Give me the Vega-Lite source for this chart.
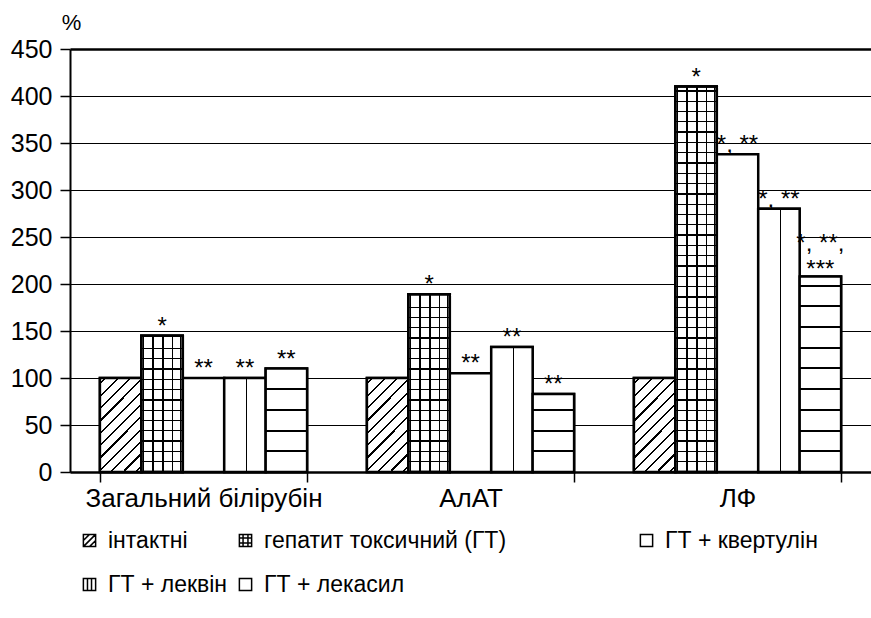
{
  "$schema": "https://vega.github.io/schema/vega-lite/v6.json",
  "autosize": {"type": "none"},
  "padding": {"left": 70, "top": 49, "right": 0, "bottom": 146},
  "width": 801,
  "height": 423,
  "background": "white",
  "config": {
    "view": {"stroke": null},
    "font": "Liberation Sans",
    "axis": {"labelFont": "Liberation Sans", "titleFont": "Liberation Sans", "labelColor": "black", "titleColor": "black", "domainColor": "black", "tickColor": "black"},
    "legend": {
      "labelFont": "Liberation Sans", "labelColor": "black", "title": null, "orient": "none", "direction": "vertical", "padding": 0,
      "symbolSize": 150, "symbolStrokeColor": "black", "symbolStrokeWidth": 1.5, "symbolFillColor": "white", "symbolOpacity": 1,
      "labelFontSize": 23, "labelLimit": 0, "labelOffset": 7, "rowPadding": 20
    }
  },
  "resolve": {"scale": {"shape": "independent"}, "legend": {"shape": "independent"}},
  "data": {
    "values": [
      {"group": "Загальний білірубін", "series": "інтактні", "value": 100, "label": ""},
      {"group": "Загальний білірубін", "series": "гепатит токсичний (ГТ)", "value": 145, "label": "*"},
      {"group": "Загальний білірубін", "series": "ГТ + квертулін", "value": 100, "label": "**"},
      {"group": "Загальний білірубін", "series": "ГТ + леквін", "value": 100, "label": "**"},
      {"group": "Загальний білірубін", "series": "ГТ + лекасил", "value": 110, "label": "**"},
      {"group": "АлАТ", "series": "інтактні", "value": 100, "label": ""},
      {"group": "АлАТ", "series": "гепатит токсичний (ГТ)", "value": 189, "label": "*"},
      {"group": "АлАТ", "series": "ГТ + квертулін", "value": 105, "label": "**"},
      {"group": "АлАТ", "series": "ГТ + леквін", "value": 133, "label": "**"},
      {"group": "АлАТ", "series": "ГТ + лекасил", "value": 83, "label": "**"},
      {"group": "ЛФ", "series": "інтактні", "value": 100, "label": ""},
      {"group": "ЛФ", "series": "гепатит токсичний (ГТ)", "value": 410, "label": "*"},
      {"group": "ЛФ", "series": "ГТ + квертулін", "value": 338, "label": "*, **"},
      {"group": "ЛФ", "series": "ГТ + леквін", "value": 280, "label": "*, **"},
      {"group": "ЛФ", "series": "ГТ + лекасил", "value": 208, "label": "*, **,\n***"}
    ]
  },
  "encoding": {
    "x": {
      "field": "group", "type": "nominal", "sort": ["Загальний білірубін", "АлАТ", "ЛФ"],
      "scale": {"paddingInner": 0.224, "paddingOuter": 0.112},
      "axis": {"title": null, "labelAngle": 0, "labelFontSize": 26, "labelLimit": 0, "labelPadding": 3, "tickBand": "extent", "tickSize": 10, "tickWidth": 1.5, "domainWidth": 2.5}
    },
    "xOffset": {
      "field": "series", "type": "nominal",
      "scale": {"domain": ["інтактні", "гепатит токсичний (ГТ)", "ГТ + квертулін", "ГТ + леквін", "ГТ + лекасил"], "paddingInner": 0, "paddingOuter": 0}
    },
    "y": {
      "field": "value", "type": "quantitative",
      "scale": {"domain": [0, 450], "nice": false},
      "axis": {
        "values": [0, 50, 100, 150, 200, 250, 300, 350, 400, 450],
        "title": "%", "titleAngle": 0, "titleAlign": "center", "titleBaseline": "alphabetic", "titleX": 1, "titleY": -20, "titleFontSize": 22, "titleFontWeight": "normal",
        "labelFontSize": 25, "labelPadding": 8, "tickSize": 10, "tickWidth": 1.5, "domainWidth": 2,
        "grid": true, "gridColor": "black", "gridOpacity": 1,
        "gridWidth": {"condition": {"test": "datum.value === 450", "value": 2.5}, "value": 1}
      }
    }
  },
  "layer": [
    {
      "mark": {"type": "bar", "stroke": "black", "strokeWidth": 2.5, "fill": "white", "opacity": 1}
    },
    {
      "transform": [{"filter": {"field": "series", "oneOf": ["інтактні", "ГТ + леквін"]}}],
      "mark": {"type": "point", "opacity": 0, "filled": false, "color": "black"},
      "encoding": {"shape": {"field": "series", "type": "nominal",
        "scale": {"domain": ["інтактні", "ГТ + леквін"], "range": ["M-1,-1H1V1H-1Z M-1,0L0,-1 M-1,1L1,-1 M0,1L1,0", "M-1,-1H1V1H-1Z M-0.33,-1V1 M0.33,-1V1"]},
        "legend": {"legendX": 8, "legendY": 480, "encode": {"symbols": {"update": {"stroke": {"value": "black"}, "fill": {"value": "white"}, "opacity": {"value": 1}, "strokeWidth": {"value": 1.5}}}}}}}
    },
    {
      "transform": [{"filter": {"field": "series", "oneOf": ["гепатит токсичний (ГТ)", "ГТ + лекасил"]}}],
      "mark": {"type": "point", "opacity": 0, "filled": false, "color": "black"},
      "encoding": {"shape": {"field": "series", "type": "nominal",
        "scale": {"domain": ["гепатит токсичний (ГТ)", "ГТ + лекасил"], "range": ["M-1,-1H1V1H-1Z M-0.4,-1V1 M0.4,-1V1 M-1,-0.4H1 M-1,0.4H1", "M-1,-1H1V1H-1Z"]},
        "legend": {"legendX": 164, "legendY": 480, "encode": {"symbols": {"update": {"stroke": {"value": "black"}, "fill": {"value": "white"}, "opacity": {"value": 1}, "strokeWidth": {"value": 1.5}}}}}}}
    },
    {
      "transform": [{"filter": {"field": "series", "equal": "ГТ + квертулін"}}],
      "mark": {"type": "point", "opacity": 0, "filled": false, "color": "black"},
      "encoding": {"shape": {"field": "series", "type": "nominal",
        "scale": {"domain": ["ГТ + квертулін"], "range": ["M-1,-1H1V1H-1Z"]},
        "legend": {"legendX": 565, "legendY": 480, "encode": {"symbols": {"update": {"stroke": {"value": "black"}, "fill": {"value": "white"}, "opacity": {"value": 1}, "strokeWidth": {"value": 1.5}}}}}}}
    },
    {
      "transform": [{"filter": {"field": "series", "equal": "інтактні"}}],
      "mark": {"type": "bar", "stroke": "black", "strokeWidth": 2.5, "fill": {"gradient": "linear", "x1": 0, "y1": 0, "x2": 0.534, "y2": 1.206, "stops": [
        {"offset": 0, "color": "white"},
        {"offset": 0.036, "color": "white"}, {"offset": 0.036, "color": "black"}, {"offset": 0.052, "color": "black"}, {"offset": 0.052, "color": "white"},
        {"offset": 0.127, "color": "white"}, {"offset": 0.127, "color": "black"}, {"offset": 0.143, "color": "black"}, {"offset": 0.143, "color": "white"},
        {"offset": 0.218, "color": "white"}, {"offset": 0.218, "color": "black"}, {"offset": 0.234, "color": "black"}, {"offset": 0.234, "color": "white"},
        {"offset": 0.310, "color": "white"}, {"offset": 0.310, "color": "black"}, {"offset": 0.326, "color": "black"}, {"offset": 0.326, "color": "white"},
        {"offset": 0.401, "color": "white"}, {"offset": 0.401, "color": "black"}, {"offset": 0.417, "color": "black"}, {"offset": 0.417, "color": "white"},
        {"offset": 0.492, "color": "white"}, {"offset": 0.492, "color": "black"}, {"offset": 0.508, "color": "black"}, {"offset": 0.508, "color": "white"},
        {"offset": 0.583, "color": "white"}, {"offset": 0.583, "color": "black"}, {"offset": 0.599, "color": "black"}, {"offset": 0.599, "color": "white"},
        {"offset": 0.674, "color": "white"}, {"offset": 0.674, "color": "black"}, {"offset": 0.690, "color": "black"}, {"offset": 0.690, "color": "white"},
        {"offset": 0.766, "color": "white"}, {"offset": 0.766, "color": "black"}, {"offset": 0.782, "color": "black"}, {"offset": 0.782, "color": "white"},
        {"offset": 0.857, "color": "white"}, {"offset": 0.857, "color": "black"}, {"offset": 0.873, "color": "black"}, {"offset": 0.873, "color": "white"},
        {"offset": 0.948, "color": "white"}, {"offset": 0.948, "color": "black"}, {"offset": 0.964, "color": "black"}, {"offset": 0.964, "color": "white"},
        {"offset": 1, "color": "white"}
      ]}}
    },
    {
      "transform": [{"filter": {"field": "series", "equal": "гепатит токсичний (ГТ)"}}],
      "mark": {"type": "bar", "stroke": "black", "strokeWidth": 2.5, "fill": {"gradient": "linear", "x1": 0, "y1": 0, "x2": 1, "y2": 0, "stops": [
        {"offset": 0, "color": "white"},
        {"offset": 0.05, "color": "white"}, {"offset": 0.05, "color": "black"}, {"offset": 0.07, "color": "black"}, {"offset": 0.07, "color": "white"},
        {"offset": 0.264, "color": "white"}, {"offset": 0.264, "color": "black"}, {"offset": 0.296, "color": "black"}, {"offset": 0.296, "color": "white"},
        {"offset": 0.504, "color": "white"}, {"offset": 0.504, "color": "black"}, {"offset": 0.536, "color": "black"}, {"offset": 0.536, "color": "white"},
        {"offset": 0.744, "color": "white"}, {"offset": 0.744, "color": "black"}, {"offset": 0.776, "color": "black"}, {"offset": 0.776, "color": "white"},
        {"offset": 0.93, "color": "white"}, {"offset": 0.93, "color": "black"}, {"offset": 0.95, "color": "black"}, {"offset": 0.95, "color": "white"},
        {"offset": 1, "color": "white"}
      ]}}
    },
    {
      "transform": [{"filter": {"field": "series", "equal": "ГТ + леквін"}}],
      "mark": {"type": "bar", "stroke": "black", "strokeWidth": 2.5, "fill": {"gradient": "linear", "x1": 0, "y1": 0, "x2": 1, "y2": 0, "stops": [
        {"offset": 0, "color": "white"},
        {"offset": 0.515, "color": "white"}, {"offset": 0.515, "color": "black"}, {"offset": 0.545, "color": "black"}, {"offset": 0.545, "color": "white"},
        {"offset": 1, "color": "white"}
      ]}}
    },
    {
      "transform": [{"filter": {"and": [{"field": "series", "equal": "гепатит токсичний (ГТ)"}, {"field": "group", "equal": "Загальний білірубін"}]}}],
      "mark": {"type": "bar", "stroke": "black", "strokeWidth": 2.5, "fill": {"gradient": "linear", "x1": 0, "y1": 1, "x2": 0, "y2": 0, "stops": [
        {"offset": 0, "color": "rgba(0,0,0,0)"},
        {"offset": 0.0706, "color": "rgba(0,0,0,0)"}, {"offset": 0.0706, "color": "black"}, {"offset": 0.0806, "color": "black"}, {"offset": 0.0806, "color": "rgba(0,0,0,0)"},
        {"offset": 0.1461, "color": "rgba(0,0,0,0)"}, {"offset": 0.1461, "color": "black"}, {"offset": 0.1561, "color": "black"}, {"offset": 0.1561, "color": "rgba(0,0,0,0)"},
        {"offset": 0.2217, "color": "rgba(0,0,0,0)"}, {"offset": 0.2217, "color": "black"}, {"offset": 0.2317, "color": "black"}, {"offset": 0.2317, "color": "rgba(0,0,0,0)"},
        {"offset": 0.2973, "color": "rgba(0,0,0,0)"}, {"offset": 0.2973, "color": "black"}, {"offset": 0.3073, "color": "black"}, {"offset": 0.3073, "color": "rgba(0,0,0,0)"},
        {"offset": 0.3728, "color": "rgba(0,0,0,0)"}, {"offset": 0.3728, "color": "black"}, {"offset": 0.3828, "color": "black"}, {"offset": 0.3828, "color": "rgba(0,0,0,0)"},
        {"offset": 0.4484, "color": "rgba(0,0,0,0)"}, {"offset": 0.4484, "color": "black"}, {"offset": 0.4584, "color": "black"}, {"offset": 0.4584, "color": "rgba(0,0,0,0)"},
        {"offset": 0.5240, "color": "rgba(0,0,0,0)"}, {"offset": 0.5240, "color": "black"}, {"offset": 0.5340, "color": "black"}, {"offset": 0.5340, "color": "rgba(0,0,0,0)"},
        {"offset": 0.5995, "color": "rgba(0,0,0,0)"}, {"offset": 0.5995, "color": "black"}, {"offset": 0.6095, "color": "black"}, {"offset": 0.6095, "color": "rgba(0,0,0,0)"},
        {"offset": 0.6751, "color": "rgba(0,0,0,0)"}, {"offset": 0.6751, "color": "black"}, {"offset": 0.6851, "color": "black"}, {"offset": 0.6851, "color": "rgba(0,0,0,0)"},
        {"offset": 0.7507, "color": "rgba(0,0,0,0)"}, {"offset": 0.7507, "color": "black"}, {"offset": 0.7607, "color": "black"}, {"offset": 0.7607, "color": "rgba(0,0,0,0)"},
        {"offset": 0.8262, "color": "rgba(0,0,0,0)"}, {"offset": 0.8262, "color": "black"}, {"offset": 0.8362, "color": "black"}, {"offset": 0.8362, "color": "rgba(0,0,0,0)"},
        {"offset": 0.9018, "color": "rgba(0,0,0,0)"}, {"offset": 0.9018, "color": "black"}, {"offset": 0.9118, "color": "black"}, {"offset": 0.9118, "color": "rgba(0,0,0,0)"},
        {"offset": 1, "color": "rgba(0,0,0,0)"}
      ]}}
    },
    {
      "transform": [{"filter": {"and": [{"field": "series", "equal": "гепатит токсичний (ГТ)"}, {"field": "group", "equal": "АлАТ"}]}}],
      "mark": {"type": "bar", "stroke": "black", "strokeWidth": 2.5, "fill": {"gradient": "linear", "x1": 0, "y1": 1, "x2": 0, "y2": 0, "stops": [
        {"offset": 0, "color": "rgba(0,0,0,0)"},
        {"offset": 0.0543, "color": "rgba(0,0,0,0)"}, {"offset": 0.0543, "color": "black"}, {"offset": 0.0617, "color": "black"}, {"offset": 0.0617, "color": "rgba(0,0,0,0)"},
        {"offset": 0.1123, "color": "rgba(0,0,0,0)"}, {"offset": 0.1123, "color": "black"}, {"offset": 0.1197, "color": "black"}, {"offset": 0.1197, "color": "rgba(0,0,0,0)"},
        {"offset": 0.1702, "color": "rgba(0,0,0,0)"}, {"offset": 0.1702, "color": "black"}, {"offset": 0.1776, "color": "black"}, {"offset": 0.1776, "color": "rgba(0,0,0,0)"},
        {"offset": 0.2282, "color": "rgba(0,0,0,0)"}, {"offset": 0.2282, "color": "black"}, {"offset": 0.2356, "color": "black"}, {"offset": 0.2356, "color": "rgba(0,0,0,0)"},
        {"offset": 0.2862, "color": "rgba(0,0,0,0)"}, {"offset": 0.2862, "color": "black"}, {"offset": 0.2936, "color": "black"}, {"offset": 0.2936, "color": "rgba(0,0,0,0)"},
        {"offset": 0.3442, "color": "rgba(0,0,0,0)"}, {"offset": 0.3442, "color": "black"}, {"offset": 0.3516, "color": "black"}, {"offset": 0.3516, "color": "rgba(0,0,0,0)"},
        {"offset": 0.4021, "color": "rgba(0,0,0,0)"}, {"offset": 0.4021, "color": "black"}, {"offset": 0.4095, "color": "black"}, {"offset": 0.4095, "color": "rgba(0,0,0,0)"},
        {"offset": 0.4601, "color": "rgba(0,0,0,0)"}, {"offset": 0.4601, "color": "black"}, {"offset": 0.4675, "color": "black"}, {"offset": 0.4675, "color": "rgba(0,0,0,0)"},
        {"offset": 0.5181, "color": "rgba(0,0,0,0)"}, {"offset": 0.5181, "color": "black"}, {"offset": 0.5255, "color": "black"}, {"offset": 0.5255, "color": "rgba(0,0,0,0)"},
        {"offset": 0.5761, "color": "rgba(0,0,0,0)"}, {"offset": 0.5761, "color": "black"}, {"offset": 0.5835, "color": "black"}, {"offset": 0.5835, "color": "rgba(0,0,0,0)"},
        {"offset": 0.6340, "color": "rgba(0,0,0,0)"}, {"offset": 0.6340, "color": "black"}, {"offset": 0.6414, "color": "black"}, {"offset": 0.6414, "color": "rgba(0,0,0,0)"},
        {"offset": 0.6920, "color": "rgba(0,0,0,0)"}, {"offset": 0.6920, "color": "black"}, {"offset": 0.6994, "color": "black"}, {"offset": 0.6994, "color": "rgba(0,0,0,0)"},
        {"offset": 0.7500, "color": "rgba(0,0,0,0)"}, {"offset": 0.7500, "color": "black"}, {"offset": 0.7574, "color": "black"}, {"offset": 0.7574, "color": "rgba(0,0,0,0)"},
        {"offset": 0.8080, "color": "rgba(0,0,0,0)"}, {"offset": 0.8080, "color": "black"}, {"offset": 0.8154, "color": "black"}, {"offset": 0.8154, "color": "rgba(0,0,0,0)"},
        {"offset": 0.8659, "color": "rgba(0,0,0,0)"}, {"offset": 0.8659, "color": "black"}, {"offset": 0.8733, "color": "black"}, {"offset": 0.8733, "color": "rgba(0,0,0,0)"},
        {"offset": 0.9239, "color": "rgba(0,0,0,0)"}, {"offset": 0.9239, "color": "black"}, {"offset": 0.9313, "color": "black"}, {"offset": 0.9313, "color": "rgba(0,0,0,0)"},
        {"offset": 1, "color": "rgba(0,0,0,0)"}
      ]}}
    },
    {
      "transform": [{"filter": {"and": [{"field": "series", "equal": "гепатит токсичний (ГТ)"}, {"field": "group", "equal": "ЛФ"}]}}],
      "mark": {"type": "bar", "stroke": "black", "strokeWidth": 2.5, "fill": {"gradient": "linear", "x1": 0, "y1": 1, "x2": 0, "y2": 0, "stops": [
        {"offset": 0, "color": "rgba(0,0,0,0)"},
        {"offset": 0.0250, "color": "rgba(0,0,0,0)"}, {"offset": 0.0250, "color": "black"}, {"offset": 0.0284, "color": "black"}, {"offset": 0.0284, "color": "rgba(0,0,0,0)"},
        {"offset": 0.0518, "color": "rgba(0,0,0,0)"}, {"offset": 0.0518, "color": "black"}, {"offset": 0.0552, "color": "black"}, {"offset": 0.0552, "color": "rgba(0,0,0,0)"},
        {"offset": 0.0785, "color": "rgba(0,0,0,0)"}, {"offset": 0.0785, "color": "black"}, {"offset": 0.0819, "color": "black"}, {"offset": 0.0819, "color": "rgba(0,0,0,0)"},
        {"offset": 0.1052, "color": "rgba(0,0,0,0)"}, {"offset": 0.1052, "color": "black"}, {"offset": 0.1086, "color": "black"}, {"offset": 0.1086, "color": "rgba(0,0,0,0)"},
        {"offset": 0.1319, "color": "rgba(0,0,0,0)"}, {"offset": 0.1319, "color": "black"}, {"offset": 0.1353, "color": "black"}, {"offset": 0.1353, "color": "rgba(0,0,0,0)"},
        {"offset": 0.1587, "color": "rgba(0,0,0,0)"}, {"offset": 0.1587, "color": "black"}, {"offset": 0.1621, "color": "black"}, {"offset": 0.1621, "color": "rgba(0,0,0,0)"},
        {"offset": 0.1854, "color": "rgba(0,0,0,0)"}, {"offset": 0.1854, "color": "black"}, {"offset": 0.1888, "color": "black"}, {"offset": 0.1888, "color": "rgba(0,0,0,0)"},
        {"offset": 0.2121, "color": "rgba(0,0,0,0)"}, {"offset": 0.2121, "color": "black"}, {"offset": 0.2155, "color": "black"}, {"offset": 0.2155, "color": "rgba(0,0,0,0)"},
        {"offset": 0.2388, "color": "rgba(0,0,0,0)"}, {"offset": 0.2388, "color": "black"}, {"offset": 0.2422, "color": "black"}, {"offset": 0.2422, "color": "rgba(0,0,0,0)"},
        {"offset": 0.2656, "color": "rgba(0,0,0,0)"}, {"offset": 0.2656, "color": "black"}, {"offset": 0.2690, "color": "black"}, {"offset": 0.2690, "color": "rgba(0,0,0,0)"},
        {"offset": 0.2923, "color": "rgba(0,0,0,0)"}, {"offset": 0.2923, "color": "black"}, {"offset": 0.2957, "color": "black"}, {"offset": 0.2957, "color": "rgba(0,0,0,0)"},
        {"offset": 0.3190, "color": "rgba(0,0,0,0)"}, {"offset": 0.3190, "color": "black"}, {"offset": 0.3224, "color": "black"}, {"offset": 0.3224, "color": "rgba(0,0,0,0)"},
        {"offset": 0.3457, "color": "rgba(0,0,0,0)"}, {"offset": 0.3457, "color": "black"}, {"offset": 0.3491, "color": "black"}, {"offset": 0.3491, "color": "rgba(0,0,0,0)"},
        {"offset": 0.3725, "color": "rgba(0,0,0,0)"}, {"offset": 0.3725, "color": "black"}, {"offset": 0.3759, "color": "black"}, {"offset": 0.3759, "color": "rgba(0,0,0,0)"},
        {"offset": 0.3992, "color": "rgba(0,0,0,0)"}, {"offset": 0.3992, "color": "black"}, {"offset": 0.4026, "color": "black"}, {"offset": 0.4026, "color": "rgba(0,0,0,0)"},
        {"offset": 0.4259, "color": "rgba(0,0,0,0)"}, {"offset": 0.4259, "color": "black"}, {"offset": 0.4293, "color": "black"}, {"offset": 0.4293, "color": "rgba(0,0,0,0)"},
        {"offset": 0.4526, "color": "rgba(0,0,0,0)"}, {"offset": 0.4526, "color": "black"}, {"offset": 0.4560, "color": "black"}, {"offset": 0.4560, "color": "rgba(0,0,0,0)"},
        {"offset": 0.4794, "color": "rgba(0,0,0,0)"}, {"offset": 0.4794, "color": "black"}, {"offset": 0.4828, "color": "black"}, {"offset": 0.4828, "color": "rgba(0,0,0,0)"},
        {"offset": 0.5061, "color": "rgba(0,0,0,0)"}, {"offset": 0.5061, "color": "black"}, {"offset": 0.5095, "color": "black"}, {"offset": 0.5095, "color": "rgba(0,0,0,0)"},
        {"offset": 0.5328, "color": "rgba(0,0,0,0)"}, {"offset": 0.5328, "color": "black"}, {"offset": 0.5362, "color": "black"}, {"offset": 0.5362, "color": "rgba(0,0,0,0)"},
        {"offset": 0.5595, "color": "rgba(0,0,0,0)"}, {"offset": 0.5595, "color": "black"}, {"offset": 0.5629, "color": "black"}, {"offset": 0.5629, "color": "rgba(0,0,0,0)"},
        {"offset": 0.5863, "color": "rgba(0,0,0,0)"}, {"offset": 0.5863, "color": "black"}, {"offset": 0.5897, "color": "black"}, {"offset": 0.5897, "color": "rgba(0,0,0,0)"},
        {"offset": 0.6130, "color": "rgba(0,0,0,0)"}, {"offset": 0.6130, "color": "black"}, {"offset": 0.6164, "color": "black"}, {"offset": 0.6164, "color": "rgba(0,0,0,0)"},
        {"offset": 0.6397, "color": "rgba(0,0,0,0)"}, {"offset": 0.6397, "color": "black"}, {"offset": 0.6431, "color": "black"}, {"offset": 0.6431, "color": "rgba(0,0,0,0)"},
        {"offset": 0.6664, "color": "rgba(0,0,0,0)"}, {"offset": 0.6664, "color": "black"}, {"offset": 0.6698, "color": "black"}, {"offset": 0.6698, "color": "rgba(0,0,0,0)"},
        {"offset": 0.6932, "color": "rgba(0,0,0,0)"}, {"offset": 0.6932, "color": "black"}, {"offset": 0.6966, "color": "black"}, {"offset": 0.6966, "color": "rgba(0,0,0,0)"},
        {"offset": 0.7199, "color": "rgba(0,0,0,0)"}, {"offset": 0.7199, "color": "black"}, {"offset": 0.7233, "color": "black"}, {"offset": 0.7233, "color": "rgba(0,0,0,0)"},
        {"offset": 0.7466, "color": "rgba(0,0,0,0)"}, {"offset": 0.7466, "color": "black"}, {"offset": 0.7500, "color": "black"}, {"offset": 0.7500, "color": "rgba(0,0,0,0)"},
        {"offset": 0.7733, "color": "rgba(0,0,0,0)"}, {"offset": 0.7733, "color": "black"}, {"offset": 0.7767, "color": "black"}, {"offset": 0.7767, "color": "rgba(0,0,0,0)"},
        {"offset": 0.8001, "color": "rgba(0,0,0,0)"}, {"offset": 0.8001, "color": "black"}, {"offset": 0.8035, "color": "black"}, {"offset": 0.8035, "color": "rgba(0,0,0,0)"},
        {"offset": 0.8268, "color": "rgba(0,0,0,0)"}, {"offset": 0.8268, "color": "black"}, {"offset": 0.8302, "color": "black"}, {"offset": 0.8302, "color": "rgba(0,0,0,0)"},
        {"offset": 0.8535, "color": "rgba(0,0,0,0)"}, {"offset": 0.8535, "color": "black"}, {"offset": 0.8569, "color": "black"}, {"offset": 0.8569, "color": "rgba(0,0,0,0)"},
        {"offset": 0.8802, "color": "rgba(0,0,0,0)"}, {"offset": 0.8802, "color": "black"}, {"offset": 0.8836, "color": "black"}, {"offset": 0.8836, "color": "rgba(0,0,0,0)"},
        {"offset": 0.9070, "color": "rgba(0,0,0,0)"}, {"offset": 0.9070, "color": "black"}, {"offset": 0.9104, "color": "black"}, {"offset": 0.9104, "color": "rgba(0,0,0,0)"},
        {"offset": 0.9337, "color": "rgba(0,0,0,0)"}, {"offset": 0.9337, "color": "black"}, {"offset": 0.9371, "color": "black"}, {"offset": 0.9371, "color": "rgba(0,0,0,0)"},
        {"offset": 0.9604, "color": "rgba(0,0,0,0)"}, {"offset": 0.9604, "color": "black"}, {"offset": 0.9638, "color": "black"}, {"offset": 0.9638, "color": "rgba(0,0,0,0)"},
        {"offset": 0.9871, "color": "rgba(0,0,0,0)"}, {"offset": 0.9871, "color": "black"}, {"offset": 0.9905, "color": "black"}, {"offset": 0.9905, "color": "rgba(0,0,0,0)"},
        {"offset": 1, "color": "rgba(0,0,0,0)"}
      ]}}
    },
    {
      "transform": [{"filter": {"and": [{"field": "series", "equal": "ГТ + лекасил"}, {"field": "group", "equal": "Загальний білірубін"}]}}],
      "mark": {"type": "bar", "stroke": "black", "strokeWidth": 2.5, "fill": {"gradient": "linear", "x1": 0, "y1": 1, "x2": 0, "y2": 0, "stops": [
        {"offset": 0, "color": "white"},
        {"offset": 0.1905, "color": "white"}, {"offset": 0.1905, "color": "black"}, {"offset": 0.2099, "color": "black"}, {"offset": 0.2099, "color": "white"},
        {"offset": 0.3907, "color": "white"}, {"offset": 0.3907, "color": "black"}, {"offset": 0.4101, "color": "black"}, {"offset": 0.4101, "color": "white"},
        {"offset": 0.5909, "color": "white"}, {"offset": 0.5909, "color": "black"}, {"offset": 0.6103, "color": "black"}, {"offset": 0.6103, "color": "white"},
        {"offset": 0.7911, "color": "white"}, {"offset": 0.7911, "color": "black"}, {"offset": 0.8105, "color": "black"}, {"offset": 0.8105, "color": "white"},
        {"offset": 1, "color": "white"}
      ]}}
    },
    {
      "transform": [{"filter": {"and": [{"field": "series", "equal": "ГТ + лекасил"}, {"field": "group", "equal": "АлАТ"}]}}],
      "mark": {"type": "bar", "stroke": "black", "strokeWidth": 2.5, "fill": {"gradient": "linear", "x1": 0, "y1": 1, "x2": 0, "y2": 0, "stops": [
        {"offset": 0, "color": "white"},
        {"offset": 0.2526, "color": "white"}, {"offset": 0.2526, "color": "black"}, {"offset": 0.2782, "color": "black"}, {"offset": 0.2782, "color": "white"},
        {"offset": 0.5180, "color": "white"}, {"offset": 0.5180, "color": "black"}, {"offset": 0.5436, "color": "black"}, {"offset": 0.5436, "color": "white"},
        {"offset": 0.7834, "color": "white"}, {"offset": 0.7834, "color": "black"}, {"offset": 0.8090, "color": "black"}, {"offset": 0.8090, "color": "white"},
        {"offset": 1, "color": "white"}
      ]}}
    },
    {
      "transform": [{"filter": {"and": [{"field": "series", "equal": "ГТ + лекасил"}, {"field": "group", "equal": "ЛФ"}]}}],
      "mark": {"type": "bar", "stroke": "black", "strokeWidth": 2.5, "fill": {"gradient": "linear", "x1": 0, "y1": 1, "x2": 0, "y2": 0, "stops": [
        {"offset": 0, "color": "white"},
        {"offset": 0.1008, "color": "white"}, {"offset": 0.1008, "color": "black"}, {"offset": 0.1110, "color": "black"}, {"offset": 0.1110, "color": "white"},
        {"offset": 0.2067, "color": "white"}, {"offset": 0.2067, "color": "black"}, {"offset": 0.2169, "color": "black"}, {"offset": 0.2169, "color": "white"},
        {"offset": 0.3125, "color": "white"}, {"offset": 0.3125, "color": "black"}, {"offset": 0.3227, "color": "black"}, {"offset": 0.3227, "color": "white"},
        {"offset": 0.4184, "color": "white"}, {"offset": 0.4184, "color": "black"}, {"offset": 0.4286, "color": "black"}, {"offset": 0.4286, "color": "white"},
        {"offset": 0.5243, "color": "white"}, {"offset": 0.5243, "color": "black"}, {"offset": 0.5345, "color": "black"}, {"offset": 0.5345, "color": "white"},
        {"offset": 0.6302, "color": "white"}, {"offset": 0.6302, "color": "black"}, {"offset": 0.6404, "color": "black"}, {"offset": 0.6404, "color": "white"},
        {"offset": 0.7361, "color": "white"}, {"offset": 0.7361, "color": "black"}, {"offset": 0.7463, "color": "black"}, {"offset": 0.7463, "color": "white"},
        {"offset": 0.8419, "color": "white"}, {"offset": 0.8419, "color": "black"}, {"offset": 0.8521, "color": "black"}, {"offset": 0.8521, "color": "white"},
        {"offset": 0.9478, "color": "white"}, {"offset": 0.9478, "color": "black"}, {"offset": 0.9580, "color": "black"}, {"offset": 0.9580, "color": "white"},
        {"offset": 1, "color": "white"}
      ]}}
    },
    {
      "transform": [{"filter": "datum.label"}, {"filter": {"not": {"field": "label", "equal": "*, **,\n***"}}}],
      "mark": {"type": "text", "baseline": "bottom", "align": "center", "dy": 3, "fontSize": 24, "font": "Liberation Sans", "color": "black"},
      "encoding": {"text": {"field": "label"}}
    },
    {
      "transform": [{"filter": {"field": "label", "equal": "*, **,\n***"}}],
      "mark": {"type": "text", "baseline": "bottom", "align": "center", "dy": -20, "fontSize": 24, "font": "Liberation Sans", "color": "black", "lineBreak": "\n", "lineHeight": 26},
      "encoding": {"text": {"field": "label"}}
    }
  ]
}
